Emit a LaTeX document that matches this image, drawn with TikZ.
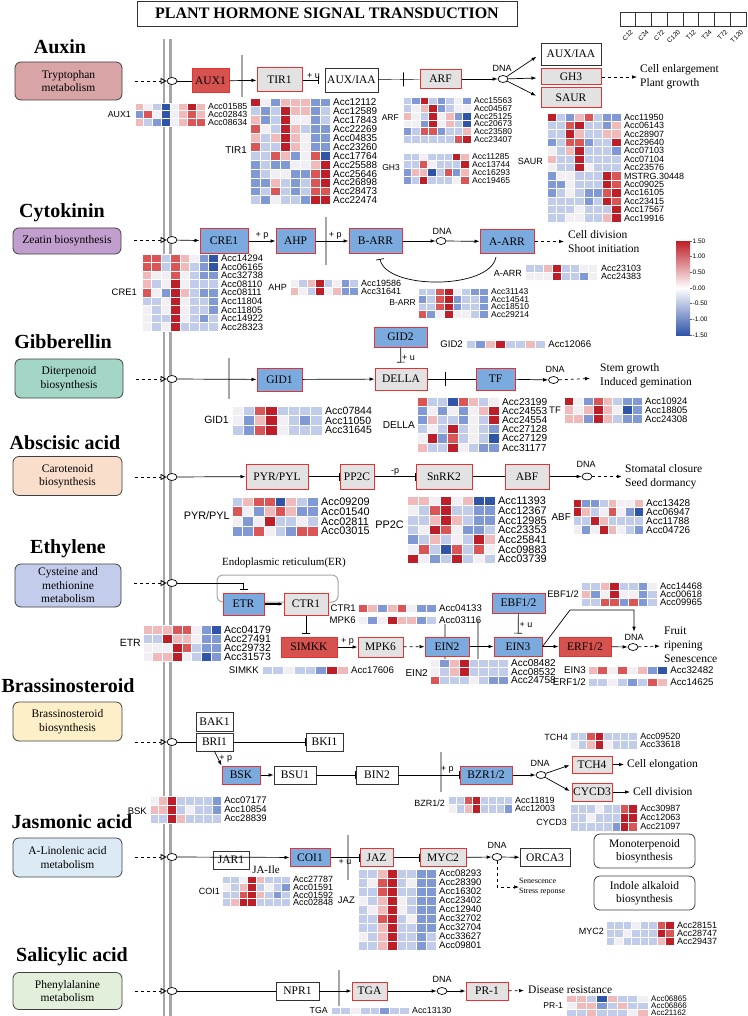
\documentclass[tikz,border=0pt]{standalone}
\usepackage{fontspec}
\setmainfont{Liberation Serif}
\newfontfamily\arialfont{Liberation Sans}
\usetikzlibrary{arrows.meta,shapes.geometric}

% gene box colours
\definecolor{genered}{RGB}{232,50,50}
\definecolor{geneblue}{RGB}{122,170,222}
\definecolor{genegray}{RGB}{226,226,226}
\definecolor{genefill}{RGB}{214,82,78}
\definecolor{barGray}{RGB}{166,166,166}
% pathway box colours
\definecolor{auxinbg}{RGB}{216,164,166}
\definecolor{cytobg}{RGB}{194,158,206}
\definecolor{gibbg}{RGB}{164,214,200}
\definecolor{ababg}{RGB}{250,222,204}
\definecolor{ethbg}{RGB}{196,204,236}
\definecolor{brbg}{RGB}{253,240,200}
\definecolor{jabg}{RGB}{220,234,246}
\definecolor{sabg}{RGB}{226,239,218}
% heatmap scale, a = low ... g = high
\definecolor{hma}{RGB}{48,84,168}
\definecolor{hmb}{RGB}{128,152,212}
\definecolor{hmc}{RGB}{192,204,234}
\definecolor{hmd}{RGB}{241,239,244}
\definecolor{hme}{RGB}{240,186,186}
\definecolor{hmf}{RGB}{218,86,86}
\definecolor{hmg}{RGB}{190,30,40}

\tikzset{
  gene/.style={draw=genered, line width=1pt, font=\fontsize{11.5}{13}\selectfont, inner sep=0pt},
  bluegene/.style={gene, fill=geneblue},
  graygene/.style={gene, fill=genegray},
  redgene/.style={gene, fill=genefill},
  plaingene/.style={draw=black!80, line width=0.8pt, fill=white, font=\fontsize{11.5}{13}\selectfont, inner sep=0pt},
  pathbox/.style={draw=black!75, line width=0.8pt, rounded corners=6pt, font=\fontsize{11.5}{13.5}\selectfont, align=center, inner sep=0pt},
  hormone/.style={font=\bfseries\fontsize{20}{20}\selectfont},
  dnac/.style={draw, ellipse, fill=white, minimum width=10pt, minimum height=7pt, inner sep=0pt, line width=0.7pt},
  act/.style={-{Latex[length=5pt,width=3.6pt]}, line width=0.7pt},
  inh/.style={-{Bar[width=8pt]}, line width=0.7pt},
  dasharr/.style={act, dashed},
  inarr/.style={dashed, -{Triangle[open,length=6pt,width=6pt]}, line width=0.8pt},
  membr/.style={barGray, line width=2.6pt},
  tickmark/.style={draw, minimum width=0pt, minimum height=14pt, inner sep=0pt, line width=0.7pt},
  smalllab/.style={font=\arialfont\fontsize{9}{9}\selectfont, inner sep=1pt},
  acclab/.style={font=\arialfont\fontsize{#1}{#1}\selectfont, inner sep=0pt, anchor=west},
  genelab/.style={font=\arialfont\fontsize{#1}{#1}\selectfont, inner sep=0pt, anchor=east},
  genelab/.default=9,
  outtext/.style={font=\fontsize{11.5}{14}\selectfont, align=left, anchor=west, inner sep=0pt}
}

% heatmap: x, y of top left corner, cell width, cell height, font size, rows Acc/letters
\newcount\hmcol
\newcommand\hmcells[1]{%
  \ifx#1\relax\else
    \path[fill=hm#1, draw=white, line width=0.9pt] (\hmx+\the\hmcol*\hmw, \hmy+\hmrow*\hmh) rectangle ++(\hmw,\hmh);
    \global\advance\hmcol by 1
    \expandafter\hmcells
  \fi}
\newcommand\hmap[6]{%
  \def\hmx{#1}\def\hmy{#2}\def\hmw{#3}\def\hmh{#4}%
  \foreach \acc/\vals [count=\hmrow from 0] in {#6}{%
    \global\hmcol=0
    \expandafter\hmcells\vals\relax
    \node[acclab=#5] at (\hmx+8*\hmw+3, \hmy+\hmrow*\hmh+0.5*\hmh) {\acc};
  }}

\begin{document}
\begin{tikzpicture}[x=1pt, y=-1pt]
  \useasboundingbox (0,0) rectangle (747,1016);
  % title and sample legend
  \node[draw=black!80, line width=0.8pt, minimum width=380pt, minimum height=25pt, inner sep=0pt,
        font=\bfseries\fontsize{16}{16}\selectfont] (title) at (327,13.5) {PLANT HORMONE SIGNAL TRANSDUCTION};
  \foreach \lab [count=\i from 0] in {C12,C24,C72,C120,T12,T24,T72,T120} {
    \draw[black!80, line width=0.6pt] (620+\i*15.75,12) rectangle ++(15.75,14);
    \node[font=\arialfont\fontsize{6.5}{6.5}\selectfont, rotate=45, anchor=east, inner sep=0pt] (leg\i) at (632+\i*15.75,31) {\lab};
  }
  % cell membrane
  \draw[membr] (164,39) -- (164,1016);
  \draw[membr] (170.7,39) -- (170.7,1016);

  % colour bar
  \shade[top color=hmg, bottom color=hma, middle color=white] (676,241) rectangle (690,335);
  \foreach \v [count=\i from 0] in {1.50,1.00,0.50,0.00,-0.50,-1.00,-1.50} {
    \draw[black!60, line width=0.4pt] (690,241+\i*15.67) -- ++(2,0);
    \node[font=\arialfont\fontsize{6.5}{6.5}\selectfont, anchor=west, inner sep=0pt] (cb\i) at (692.5,241+\i*15.67) {\v};
  }

  %% ---------------- Auxin
  \node[hormone] (tauxin) at (60,47) {Auxin};
  \node[pathbox, fill=auxinbg, minimum width=107pt, minimum height=38pt] (trp) at (68.5,81) {Tryptophan\\metabolism};
  \node[dnac] (c1) at (172,81) {};
  \draw[inarr] (trp.east) ++(13,0) -- (c1.west);
  \draw[membr] (242,55) -- (242,97);
  \node[redgene, minimum width=37pt, minimum height=24pt] (aux1) at (210.5,81) {AUX1};
  \node[graygene, minimum width=45pt, minimum height=24pt] (tir1) at (279.5,80) {TIR1};
  \node[plaingene, minimum width=53pt, minimum height=24pt] (auxiaa) at (351.5,80) {AUX/IAA};
  \node[graygene, minimum width=41pt, minimum height=19pt] (arf) at (440.5,79) {ARF};
  \node[dnac] (dna1) at (503,79) {};
  \node[smalllab] (dnal1) at (502,68) {DNA};
  \node[plaingene, minimum width=60pt, minimum height=22pt] (auxiaa2) at (571,54) {AUX/IAA};
  \node[graygene, minimum width=60pt, minimum height=16pt] (gh3) at (571,77) {GH3};
  \node[graygene, minimum width=60pt, minimum height=20pt] (saur) at (571,98) {SAUR};
  \node[outtext] (auxout) at (640,77) {Cell enlargement\\Plant growth};
  \draw (c1) -- (aux1);
  \draw[act] (aux1) -- (tir1);
  \draw[inh, shorten >=6pt] (tir1) -- node[above, smalllab]{+ u} (auxiaa);
  \draw (auxiaa) -- node[tickmark, pos=0.6]{} (arf);
  \draw[act] (arf) -- (dna1);
  \draw[act, shorten >=5pt] (dna1) -- (auxiaa2.west);
  \draw[act, shorten >=4pt] (dna1) -- (gh3);
  \draw[act, shorten >=5pt] (dna1) -- (saur.west);
  \draw[dasharr, shorten >=3pt] (gh3) -- (auxout);
  \hmap{135}{103}{8.75}{7.7}{8.8}{Acc01585/edcadege, Acc02843/bfdadefe, Acc08634/ecbadeff}
  \node[genelab=8.8] (hlaux1) at (131,114.5) {AUX1};
  \hmap{250}{98}{10}{8.9}{9.9}{Acc12112/gdbeeebb, Acc12589/cbcgeebc, Acc17843/ebcgddbc,
    Acc22269/fdcgecbb, Acc04835/ecegedbb, Acc23260/fccgedbb, Acc17764/ccfebdfa,
    Acc25588/bcbbddeg, Acc25646/bcddbbfg, Acc26898/bbecbcfg, Acc28473/bcfcbcff,
    Acc22474/cbdccbgg}
  \node[genelab=9.9] (hltir1) at (247,150) {TIR1};
  \hmap{403}{97}{8.5}{7.7}{8.5}{Acc15563/cbgcbcdb, Acc04567/cdegbcdd, Acc25125/edcgdeba,
    Acc20673/ddbgdeca, Acc23580/bcffbcce, Acc23407/ccccccfg}
  \node[genelab=8.5] (hlarf) at (399,118) {ARF};
  \hmap{403}{153}{8.25}{7.75}{8.5}{Acc11285/ccdcccge, Acc13744/ccfdcccg, Acc16293/beeacfbe,
    Acc19465/bcgcccdf}
  \node[genelab=8.5] (hlgh3) at (400,168) {GH3};
  \hmap{547}{113}{9.25}{8.4}{9}{Acc11950/gcbefcbb, Acc06143/ccfgccbe, Acc28907/ccgeccee,
    Acc29640/bcffbccg, Acc07103/dcegcccb, Acc07104/eccgcccc, Acc23576/dccgdccc,
    MSTRG.30448/bddcccgf, Acc09025/bbdcccgf, Acc16105/bcdcbbfg, Acc23415/ccccbcgf,
    Acc17567/cccdcccg, Acc19916/ccddcceg}
  \node[genelab=9] (hlsaur) at (543,161) {SAUR};

  %% ---------------- Cytokinin
  \node[hormone] (tcyto) at (62,213) {Cytokinin};
  \node[pathbox, fill=cytobg, minimum width=108pt, minimum height=26pt] (zea) at (67,241) {Zeatin biosynthesis};
  \node[dnac] (c2) at (172,240) {};
  \draw[inarr] (zea.east) ++(13,-1) -- (c2.west);
  \draw[membr] (326,217) -- (326,265);
  \node[bluegene, minimum width=48pt, minimum height=24pt] (cre1) at (224,241) {CRE1};
  \node[bluegene, minimum width=39pt, minimum height=24pt] (ahp) at (295.5,241) {AHP};
  \node[bluegene, minimum width=53pt, minimum height=24pt] (barr) at (375.5,241) {B-ARR};
  \node[dnac] (dna2) at (441,241) {};
  \node[smalllab] (dnal2) at (442,231) {DNA};
  \node[bluegene, minimum width=54pt, minimum height=23pt] (aarr) at (507,241.5) {A-ARR};
  \node[outtext] (cytout) at (568,241.5) {Cell division\\Shoot initiation};
  \draw[act] (c2) -- (cre1);
  \draw[act] (cre1) -- node[above, smalllab]{+ p} (ahp);
  \draw[act] (ahp) -- node[above, smalllab, pos=0.6]{+ p} (barr);
  \draw[act] (barr) -- (dna2);
  \draw[act] (dna2) -- (aarr);
  \draw[dasharr, shorten >=4pt] (aarr) -- (cytout);
  \coordinate (fbA) at (496,257);
  \coordinate (fbB) at (380,259);
  \draw[inh] (fbA) .. controls (490,290) and (386,290) .. (fbB);
  \hmap{142}{254}{9.5}{8.6}{9.4}{Acc14294/ffcfedba, Acc06165/ffcfecba, Acc32738/eddfdcbb,
    Acc08110/ecdgdccc, Acc08111/fdbgecbb, Acc11804/ccdgdccb, Acc11805/dcdgdccb,
    Acc14922/dccgdcbc, Acc28323/dcdgcccc}
  \node[genelab=9.4] (hlcre1) at (137,292) {CRE1};
  \hmap{290}{279}{8.5}{8}{9}{Acc19586/dcegcdbc, Acc31641/edcgdebb}
  \node[genelab] (hlahp) at (287,287) {AHP};
  \hmap{418}{288}{8.75}{7.5}{8.5}{Acc31143/ccfgdcbb, Acc14541/bcfgbccb, Acc18510/ccfgbccb,
    Acc29214/fbdgddcb}
  \node[genelab=8.5] (hlbarr) at (416,303) {B-ARR};
  \hmap{525}{264}{9.1}{8}{9}{Acc23103/ccegccdd, Acc24383/dddgccbd}
  \node[genelab] (hlaarr) at (522,273) {A-ARR};

  %% ---------------- Gibberellin
  \node[hormone] (tgib) at (63,342) {Gibberellin};
  \node[pathbox, fill=gibbg, minimum width=108pt, minimum height=39pt] (dit) at (69,378.5) {Diterpenoid\\biosynthesis};
  \node[dnac] (c3) at (172,379) {};
  \draw[inarr] (dit.east) ++(13,0.5) -- (c3.west);
  \draw[membr] (229,358) -- (229,399);
  \node[bluegene, minimum width=45pt, minimum height=23pt] (gid1) at (279.5,379.5) {GID1};
  \node[graygene, minimum width=52pt, minimum height=22pt] (della) at (401,379) {DELLA};
  \node[bluegene, minimum width=53pt, minimum height=20pt] (gid2) at (400.5,337) {GID2};
  \node[bluegene, minimum width=39pt, minimum height=22pt] (tf) at (495.5,379) {TF};
  \node[dnac] (dna3) at (553.5,380) {};
  \node[smalllab] (dnal3) at (555,369) {DNA};
  \node[outtext] (gibout) at (600,376) {Stem growth\\Induced gemination};
  \draw[act] (c3) -- (gid1);
  \draw[act] (gid1) -- (della);
  \draw[inh, shorten >=5pt] (gid2) -- node[right, smalllab]{+ u} (della);
  \draw (della) -- node[tickmark, pos=0.38]{} (tf);
  \draw[act] (tf) -- (dna3);
  \draw[dasharr, shorten >=10pt] (dna3) -- (gibout);
  \hmap{466}{340}{9.9}{8}{9.6}{Acc12066/cbegccec}
  \node[genelab=9.6] (hlgid2) at (463,344) {GID2};
  \hmap{232}{406}{11.25}{9.7}{10.5}{Acc07844/dcfgcccc, Acc11050/dbegdcbc, Acc31645/cbfgdccc}
  \node[genelab=10.5] (hlgid1) at (229,420) {GID1};
  \hmap{417}{397}{10.25}{9.2}{10.1}{Acc23199/fccafecd, Acc24553/bdbdbdeg, Acc24554/beccbdcg,
    Acc27128/cdcgcdcb, Acc27129/dgbfcdca, Acc31177/eccgdcbb}
  \node[genelab=10.1] (hldella) at (415,425) {DELLA};
  \hmap{564}{397}{9.75}{8.7}{9.5}{Acc10924/gdbfecbb, Acc18805/edegedab, Acc24308/eebgecbb}
  \node[genelab=9.5] (hltf) at (561,410) {TF};

  %% ---------------- Abscisic acid
  \node[hormone] (taba) at (65,443) {Abscisic acid};
  \node[pathbox, fill=ababg, minimum width=109pt, minimum height=39pt] (car) at (67.5,476) {Carotenoid\\biosynthesis};
  \node[dnac] (c4) at (172,477) {};
  \draw[inarr] (car.east) ++(13,1) -- (c4.west);
  \node[graygene, minimum width=62pt, minimum height=25pt] (pyr) at (277,476.5) {PYR/PYL};
  \node[graygene, minimum width=34pt, minimum height=25pt] (pp2c) at (357,476.5) {PP2C};
  \node[graygene, minimum width=56pt, minimum height=25pt] (snrk2) at (444,476.5) {SnRK2};
  \node[graygene, minimum width=44pt, minimum height=25pt] (abf) at (527,476.5) {ABF};
  \node[dnac] (dna4) at (587,476.5) {};
  \node[smalllab] (dnal4) at (586,464) {DNA};
  \node[outtext] (abaout) at (625,476.5) {Stomatal closure\\Seed dormancy};
  \draw[act] (c4) -- (pyr);
  \draw[inh] (pyr) -- (pp2c);
  \draw[inh] (pp2c) -- node[above, smalllab]{-p} (snrk2);
  \draw (snrk2) -- (abf);
  \draw[act] (abf) -- (dna4);
  \draw[dasharr, line width=1.1pt, shorten >=3pt] (dna4) -- (abaout);
  \hmap{232}{497}{10.75}{9.75}{10.9}{Acc09209/ceffaecb, Acc01540/fdbefebb, Acc02811/dbdgccdc,
    Acc03015/bbfdcbff}
  \node[genelab=10.9] (hlpyr) at (230,516) {PYR/PYL};
  \hmap{407}{496}{11}{9.7}{10.9}{Acc11393/eedgdeaa, Acc12367/dcfgccbb, Acc12985/ccegecbb,
    Acc23353/cdgfdbbc, Acc25841/bcecdcge, Acc09883/dfcafcfd, Acc03739/gdbcgcdc}
  \node[genelab=10.9] (hlpp2c) at (404,525) {PP2C};
  \hmap{573}{499}{8.75}{8.75}{9.9}{Acc13428/gbbcedde, Acc06947/gecdfdba, Acc11788/ccgecccc,
    Acc04726/dbdgedcb}
  \node[genelab=9.9] (hlabf) at (571,517) {ABF};

  %% ---------------- Ethylene
  \node[hormone] (teth) at (68,549) {Ethylene};
  \node[pathbox, fill=ethbg, minimum width=106pt, minimum height=43pt] (cys) at (68,585.5) {Cysteine and\\methionine\\metabolism};
  \node[dnac] (c5) at (172,583) {};
  \draw[inarr] (cys.east) ++(13,-2.5) -- (c5.west);
  \draw[gray!70, line width=1pt, rounded corners=6pt] (217,575) rectangle (338,602);
  \node[font=\fontsize{11}{12}\selectfont] (erlab) at (284,563) {Endoplasmic reticulum(ER)};
  \draw[membr] (445,624) -- (445,660);
  \draw[membr] (478,620) -- (478,662);
  \node[bluegene, minimum width=41pt, minimum height=22pt] (etr) at (243.5,604) {ETR};
  \node[graygene, minimum width=44pt, minimum height=22pt] (ctr1) at (306,604) {CTR1};
  \node[redgene, minimum width=56pt, minimum height=20pt] (simkk) at (309,647) {SIMKK};
  \node[graygene, minimum width=45pt, minimum height=20pt] (mpk6) at (380.5,647) {MPK6};
  \node[bluegene, minimum width=44pt, minimum height=19pt] (ein2) at (447,646.5) {EIN2};
  \node[bluegene, minimum width=48pt, minimum height=19pt] (ein3) at (518,646.5) {EIN3};
  \node[bluegene, minimum width=53pt, minimum height=20pt] (ebf) at (518.5,603) {EBF1/2};
  \node[redgene, minimum width=52pt, minimum height=19pt] (erf) at (585,646.5) {ERF1/2};
  \node[dnac] (dna5) at (633,647) {};
  \node[smalllab] (dnal5) at (634,637) {DNA};
  \node[outtext] (ethout) at (664,645) {Fruit\\ripening\\Senescence};
  \draw[inh, shorten >=3pt] (c5) -| (etr.north);
  \draw[act, line width=1.3pt] (etr) -- (ctr1);
  \draw[inh, shorten >=3pt] (ctr1.south) -- (ctr1.south |- simkk.north);
  \draw[act] (simkk) -- node[above, smalllab]{+ p} (mpk6);
  \draw[dasharr] (mpk6) -- (ein2);
  \draw[act] (ein2) -- (ein3);
  \draw[inh, shorten >=3pt] (ebf) -- node[right, smalllab]{+ u} (ein3);
  \draw[act] (ein3) -- (erf);
  \draw[act] (erf) -- (dna5);
  \coordinate (ebend) at (570,610);
  \draw[act, shorten >=1pt] (ein3.east) -- (ebend) -| (dnal5.north);
  \draw[dasharr, shorten >=4pt] (dna5) -- (ethout);
  \hmap{358}{604.5}{9.75}{7.5}{9.6}{Acc04133/febefdbb}
  \node[genelab=9.6] (hlctr1) at (356,608) {CTR1};
  \hmap{358}{616.5}{9.75}{7.5}{9.6}{Acc03116/dbdgeebc}
  \node[genelab=9.6] (hlmpk6) at (356,620) {MPK6};
  \hmap{143}{625}{9.75}{9.2}{10.5}{Acc04179/eeeffdba, Acc27491/ccgeedbb, Acc29732/dddgfcbb,
    Acc31573/deegdcab}
  \node[genelab=10.5] (hletr) at (141,643) {ETR};
  \hmap{262}{666}{10.75}{8}{9.6}{Acc17606/ccdccbge}
  \node[genelab=9.6] (hlsimkk) at (259,670) {SIMKK};
  \hmap{581}{582}{9.5}{8.3}{9.4}{Acc14468/ccegccbd, Acc00618/ebdgddbc, Acc09965/ccffbfbc}
  \node[genelab=9.4] (hlebf) at (579,594) {EBF1/2};
  \hmap{430}{659}{9.75}{8.5}{10}{Acc08482/dbegcccc, Acc08532/dcegcccc, Acc24758/fcccdcbb}
  \node[genelab=10] (hlein2) at (428,673) {EIN2};
  \hmap{588}{666}{9.9}{8}{9.7}{Acc32482/efdfdeba}
  \node[genelab=9.7] (hlein3) at (586,670) {EIN3};
  \hmap{588}{678}{9.9}{8}{9.7}{Acc14625/ccdcbcfe}
  \node[genelab=9.7] (hlerf) at (586,682) {ERF1/2};

  %% ---------------- Brassinosteroid
  \node[hormone] (tbr) at (68,686) {Brassinosteroid};
  \node[pathbox, fill=brbg, minimum width=109pt, minimum height=39pt] (brs) at (67.5,721.5) {Brassinosteroid\\biosynthesis};
  \node[dnac] (c6) at (172,742) {};
  \draw[inarr] (brs.east) ++(13,20.5) -- (c6.west);
  \draw[membr] (441,752) -- (441,792);
  \node[plaingene, minimum width=37pt, minimum height=19pt] (bak1) at (214.5,721.5) {BAK1};
  \node[plaingene, minimum width=37pt, minimum height=18pt] (bri1) at (214.5,742) {BRI1};
  \node[plaingene, minimum width=37pt, minimum height=18pt] (bki1) at (324.5,742) {BKI1};
  \node[bluegene, minimum width=38pt, minimum height=18pt] (bsk) at (241,775) {BSK};
  \node[plaingene, minimum width=42pt, minimum height=18pt] (bsu1) at (295,775) {BSU1};
  \node[plaingene, minimum width=42pt, minimum height=18pt] (bin2) at (377,775) {BIN2};
  \node[bluegene, minimum width=52pt, minimum height=18pt] (bzr) at (486,775) {BZR1/2};
  \node[dnac] (dna6) at (541,775) {};
  \node[smalllab] (dnal6) at (540,763) {DNA};
  \node[graygene, minimum width=40pt, minimum height=17pt] (tch4) at (592,764.5) {TCH4};
  \node[graygene, minimum width=40pt, minimum height=18pt] (cycd3) at (592,792) {CYCD3};
  \node[outtext] (brout1) at (627,764.5) {Cell elongation};
  \node[outtext] (brout2) at (633,792) {Cell division};
  \draw (c6) -- (bri1);
  \draw[inh] (bri1) -- (bki1);
  \draw[act] (bri1.south) -- node[right, smalllab]{+ p} (bsk.north west);
  \draw[act] (bsk) -- (bsu1);
  \draw[inh] (bsu1) -- (bin2);
  \draw[inh] (bin2) -- node[above, smalllab, pos=0.8]{+ p} (bzr);
  \draw[act] (bzr) -- (dna6);
  \draw[act, shorten >=2pt] (dna6) -- (tch4.west);
  \draw[act, shorten >=2pt] (dna6) -- (cycd3.west);
  \draw[act, shorten >=3pt] (tch4) -- (brout1);
  \draw[act, shorten >=3pt] (cycd3) -- (brout2);
  \hmap{570}{732}{8.4}{8.5}{9}{Acc09520/ccfgcccc, Acc33618/dcegdccc}
  \node[genelab] (hltch4) at (568,737) {TCH4};
  \hmap{150}{796}{8.9}{9}{9.5}{Acc07177/degccccb, Acc10854/eegcdccb, Acc28839/ccgecccc}
  \node[genelab=9.5] (hlbsk) at (147,811) {BSK};
  \hmap{448}{796}{8}{8.5}{9}{Acc11819/ccfgcccc, Acc12003/dcegcccb}
  \node[genelab] (hlbzr) at (445,803) {BZR1/2};
  \hmap{570}{804}{8.4}{9}{9}{Acc30987/cccdccfg, Acc12063/ccdcccgg, Acc21097/cccccbgf}
  \node[genelab] (hlcycd3) at (567,822) {CYCD3};

  %% ---------------- Jasmonic acid
  \node[hormone] (tja) at (72,822) {Jasmonic acid};
  \node[pathbox, fill=jabg, minimum width=109pt, minimum height=39pt] (lin) at (67.5,857.5) {A-Linolenic acid\\metabolism};
  \node[dnac] (c7) at (172,857) {};
  \draw[inarr] (lin.east) ++(13,-0.5) -- (c7.west);
  \draw[membr] (348,835) -- (348,880);
  \node[plaingene, minimum width=36pt, minimum height=18pt] (jar1) at (231,860) {JAR1};
  \node[font=\fontsize{11}{12}\selectfont] (jaile) at (266,870) {JA-Ile};
  \node[bluegene, minimum width=40pt, minimum height=18pt] (coi1) at (310,857.5) {COI1};
  \node[graygene, minimum width=33pt, minimum height=18pt] (jaz) at (376.5,857.5) {JAZ};
  \node[graygene, minimum width=46pt, minimum height=18pt] (myc2) at (443,857.5) {MYC2};
  \node[dnac] (dna7) at (497,857) {};
  \node[smalllab] (dnal7) at (497,845) {DNA};
  \node[plaingene, minimum width=50pt, minimum height=18pt] (orca3) at (545,857.5) {ORCA3};
  \node[pathbox, fill=white, minimum width=101pt, minimum height=34pt] (mono) at (644.5,851) {Monoterpenoid\\biosynthesis};
  \node[pathbox, fill=white, minimum width=101pt, minimum height=34pt] (indo) at (644.5,893) {Indole alkaloid\\biosynthesis};
  \node[font=\fontsize{8}{10}\selectfont, align=left, anchor=west, inner sep=0pt] (senes) at (519,887) {Senescence\\Stress reponse};
  \draw[act] (c7) -- (coi1);
  \draw[inh] (coi1) -- node[below, smalllab]{+ u} (jaz);
  \draw[inh] (jaz) -- (myc2);
  \draw[act] (myc2) -- (dna7);
  \draw[act] (dna7) -- (orca3);
  \draw[dasharr] (dna7.south) |- (senes.west);
  \hmap{222}{876}{8.5}{7.6}{9}{Acc27787/ccdgeccc, Acc01591/dcegcdcb, Acc01592/ccfgecbc,
    Acc02848/ceggcccc}
  \node[genelab] (hlcoi1) at (220,891) {COI1};
  \hmap{358}{869}{9.75}{9}{9.5}{Acc08293/ccegccbb, Acc28390/cdfgcdbb, Acc16302/ccfgccbb,
    Acc23402/dcegdcbb, Acc12940/cdegdcbb, Acc32702/ccfgcdbb, Acc32704/ccegccbb,
    Acc33627/dcegccbc, Acc09801/ccegccbc}
  \node[genelab=9.5] (hljaz) at (355,900) {JAZ};
  \hmap{606}{921}{8.5}{8.3}{9}{Acc28151/cccdccfg, Acc28747/ccdcccgf, Acc29437/cdcccceg}
  \node[genelab] (hlmyc2) at (604,931) {MYC2};

  %% ---------------- Salicylic acid
  \node[hormone] (tsa) at (72,957) {Salicylic acid};
  \node[pathbox, fill=sabg, minimum width=109pt, minimum height=37pt] (phe) at (67.5,991) {Phenylalanine\\metabolism};
  \node[dnac] (c8) at (172,991) {};
  \draw[inarr] (phe.east) ++(13,0) -- (c8.west);
  \draw[membr] (339,970) -- (339,1006);
  \node[plaingene, minimum width=43pt, minimum height=18pt] (npr1) at (297.5,991) {NPR1};
  \node[graygene, minimum width=35pt, minimum height=18pt] (tga) at (369.5,991) {TGA};
  \node[dnac] (dna8) at (442,991) {};
  \node[smalllab] (dnal8) at (442,979) {DNA};
  \node[graygene, minimum width=42pt, minimum height=18pt] (pr1) at (487,991) {PR-1};
  \node[outtext] (saout) at (528,990) {Disease resistance};
  \draw (c8) -- (npr1);
  \draw[act] (npr1) -- (tga);
  \draw[act] (tga) -- (dna8);
  \draw[act] (dna8) -- (pr1);
  \draw[dasharr, shorten >=4pt] (pr1) -- (saout);
  \hmap{331}{1007}{9.75}{7.5}{8.8}{Acc13130/ccdccbcc}
  \node[genelab=8.8] (hltga) at (328,1010.75) {TGA};
  \hmap{566}{995}{10.25}{7}{8}{Acc06865/eecaeccd, Acc06866/deebcecc, Acc21162/ccecccde}
  \node[genelab=8.5] (hlpr1) at (563,1005.5) {PR-1};
\end{tikzpicture}
\end{document}
